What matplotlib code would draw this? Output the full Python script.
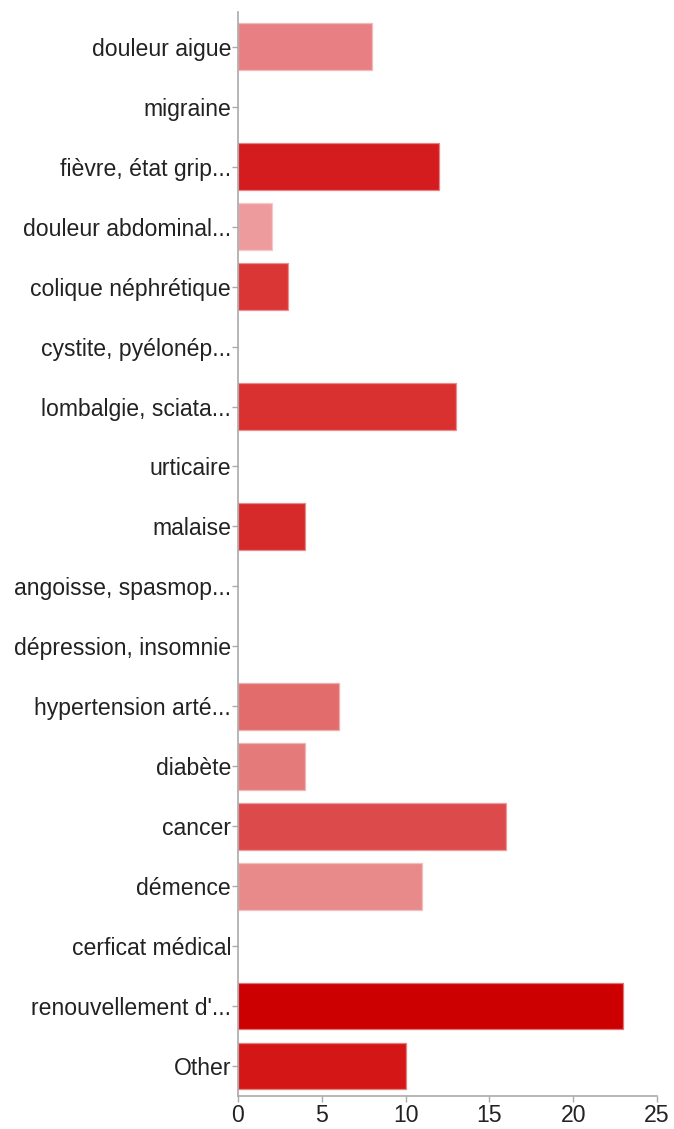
import matplotlib
matplotlib.use("Agg")
import matplotlib.pyplot as plt
from matplotlib.colors import to_rgb

plt.rcParams['font.family'] = ['Liberation Sans', 'DejaVu Sans']

categories = [
    "douleur aigue", "migraine", "fièvre, état grip...", "douleur abdominal...",
    "colique néphrétique", "cystite, pyélonép...", "lombalgie, sciata...",
    "urticaire", "malaise", "angoisse, spasmop...", "dépression, insomnie",
    "hypertension arté...", "diabète", "cancer", "démence", "cerficat médical",
    "renouvellement d'...", "Other",
]
counts = [8, 0, 12, 2, 3, 0, 13, 0, 4, 0, 0, 6, 4, 16, 11, 0, 23, 10]
bar_colors = [
    "#E88083", "#E88083", "#D41B1E", "#EE9B9D", "#D93635", "#D93635",
    "#D93030", "#D93030", "#D62A2A", "#D62A2A", "#D62A2A", "#E26C6C",
    "#E47A7A", "#DC4A4B", "#E88A8A", "#E88A8A", "#CC0000", "#D41616",
]
x_ticks = [0, 5, 10, 15, 20, 25]


def lighten(c, amt=0.45):
    r, g, b = to_rgb(c)
    return (r + (1 - r) * amt, g + (1 - g) * amt, b + (1 - b) * amt)


fig = plt.figure(figsize=(6.74, 11.29), dpi=100)
ax = fig.add_axes([0.3531, 0.0292, 0.6217, 0.9602])

n = len(categories)
ypos = [n - 1 - i for i in range(n)]
for y, v, c in zip(ypos, counts, bar_colors):
    if v > 0:
        ax.barh(y, v, height=0.78, color=c, edgecolor=lighten(c), linewidth=0.9)

ax.set_ylim(-0.5, n - 1 + 0.58)
ax.set_xlim(0, 25)
ax.set_yticks(ypos)
ax.set_yticklabels(categories)
ax.set_xticks(x_ticks)
ax.set_xticklabels([str(t) for t in x_ticks])

for s in ("top", "right"):
    ax.spines[s].set_visible(False)
for s in ("left", "bottom"):
    ax.spines[s].set_color("#AAAAAA")
    ax.spines[s].set_linewidth(1.2)

ax.tick_params(axis="both", colors="#AAAAAA", length=4, width=1.0,
               labelcolor="#222222", labelsize=16.6)
ax.tick_params(axis="y", pad=1)
ax.tick_params(axis="x", pad=2)

fig.savefig("out.png", dpi=100)
